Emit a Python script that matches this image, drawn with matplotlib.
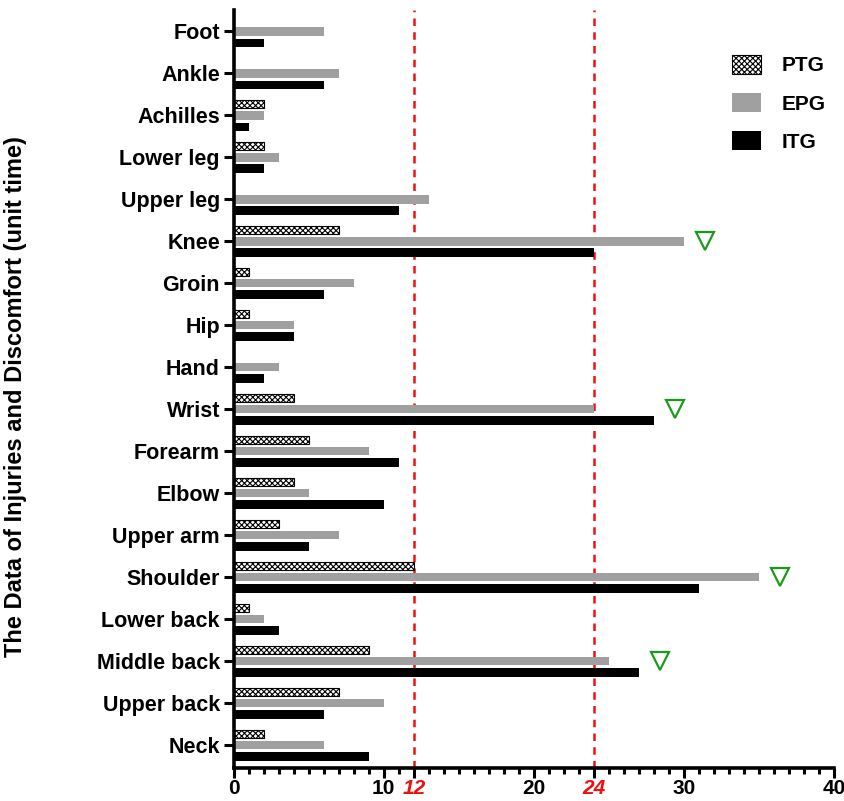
import numpy as np
import matplotlib
matplotlib.use("Agg")
import matplotlib.pyplot as plt
from matplotlib.ticker import MultipleLocator

plt.rcParams['font.family'] = ['Liberation Sans', 'DejaVu Sans']
plt.rcParams['font.weight'] = 'bold'
plt.rcParams['hatch.linewidth'] = 0.8

# 部位（自下而上）
parts = ['Neck', 'Upper back', 'Middle back', 'Lower back', 'Shoulder', 'Upper arm',
         'Elbow', 'Forearm', 'Wrist', 'Hand', 'Hip', 'Groin', 'Knee', 'Upper leg',
         'Lower leg', 'Achilles', 'Ankle', 'Foot']
ptg = [2, 7, 9, 1, 12, 3, 4, 5, 4, 0, 1, 1, 7, 0, 2, 2, 0, 0]
epg = [6, 10, 25, 2, 35, 7, 5, 9, 24, 3, 4, 8, 30, 13, 3, 2, 7, 6]
itg = [9, 6, 27, 3, 31, 5, 10, 11, 28, 2, 4, 6, 24, 11, 2, 1, 6, 2]
# 标记的部位
flagged = ['Knee', 'Wrist', 'Shoulder', 'Middle back']
ref_lines = [12, 24]

y = np.arange(len(parts))
off = 0.27
h = 0.2

fig = plt.figure(figsize=(8.44, 8.01), dpi=100)
ax = fig.add_axes([0.277, 0.041, 0.711, 0.946])

ax.barh(y + off, ptg, height=h, color='white', edgecolor='black', hatch='xxxxxx',
        linewidth=0.8, label='PTG')
ax.barh(y, epg, height=h, color='#a0a0a0', edgecolor='none', label='EPG')
ax.barh(y - off, itg, height=h, color='black', edgecolor='none', label='ITG')

for v in ref_lines:
    ax.axvline(v, color='#ee1111', ls=(0, (3, 2.5)), lw=1.8, zorder=0)

for p in flagged:
    i = parts.index(p)
    top = max(epg[i], itg[i])
    ax.plot(top + 1.4, y[i], marker='v', ms=13, mfc='none', mec='#1a9a1a', mew=1.6,
            ls='none')

ax.set_xlim(0, 40)
ax.set_ylim(-0.55, 17.5)
ax.set_yticks(y)
ax.set_yticklabels(parts, fontsize=15.5, fontweight='bold')
xt = [0, 10, 12, 20, 24, 30, 40]
ax.set_xticks(xt)
ax.set_xticklabels([str(t) for t in xt], fontsize=15, fontweight='bold')
for lab, t in zip(ax.get_xticklabels(), xt):
    if t in ref_lines:
        lab.set_color('#ee1111')
        lab.set_fontstyle('italic')
ax.xaxis.set_minor_locator(MultipleLocator(1))
ax.tick_params(axis='both', which='major', length=7, width=2.2, pad=3)
ax.tick_params(axis='x', which='major', pad=1)
ax.tick_params(axis='x', which='minor', length=4, width=2.2)
ax.tick_params(axis='y', which='minor', left=False)

for s in ['top', 'right']:
    ax.spines[s].set_visible(False)
for s in ['left', 'bottom']:
    ax.spines[s].set_linewidth(2.6)

ax.set_ylabel('The Data of Injuries and Discomfort (unit time)', fontsize=17,
              fontweight='bold')
ax.yaxis.set_label_coords(-0.345, 0.49)

ax.legend(loc='upper right', bbox_to_anchor=(1.018, 0.966), frameon=False, fontsize=15,
          handlelength=1.4, handleheight=1.0, labelspacing=0.85, handletextpad=1.0)

fig.savefig('out.png', dpi=100)
